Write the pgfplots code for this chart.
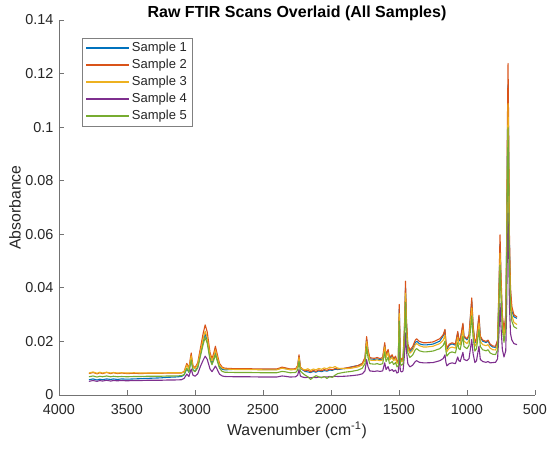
\documentclass[border=0pt]{standalone}
\usepackage{fontspec}
\setmainfont{Liberation Sans}
\usepackage{pgfplots}
\usepackage{pgfplotstable}
\pgfplotsset{compat=1.18}
\definecolor{c1}{rgb}{0,0.447,0.741}
\definecolor{c2}{rgb}{0.850,0.325,0.098}
\definecolor{c3}{rgb}{0.929,0.694,0.125}
\definecolor{c4}{rgb}{0.494,0.184,0.556}
\definecolor{c5}{rgb}{0.466,0.674,0.188}
\definecolor{axisgray}{rgb}{0.45,0.45,0.45}
\definecolor{labelgray}{rgb}{0.15,0.15,0.15}
\definecolor{legendgray}{rgb}{0.5,0.5,0.5}
\pgfplotstableread{
wn s1 s2 s3 s4 s5
3780 0.0057 0.0080 0.0082 0.0051 0.0068
3750 0.0060 0.0084 0.0086 0.0054 0.0071
3720 0.0056 0.0079 0.0081 0.0051 0.0067
3700 0.0059 0.0083 0.0085 0.0054 0.0070
3680 0.0057 0.0080 0.0082 0.0052 0.0068
3650 0.0060 0.0084 0.0085 0.0055 0.0071
3620 0.0058 0.0080 0.0082 0.0052 0.0068
3600 0.0060 0.0083 0.0084 0.0054 0.0070
3570 0.0058 0.0080 0.0082 0.0053 0.0068
3540 0.0060 0.0082 0.0083 0.0054 0.0069
3500 0.0059 0.0080 0.0082 0.0053 0.0068
3450 0.0060 0.0081 0.0083 0.0054 0.0069
3400 0.0061 0.0080 0.0082 0.0054 0.0069
3350 0.0062 0.0081 0.0082 0.0055 0.0070
3300 0.0063 0.0081 0.0082 0.0055 0.0070
3250 0.0064 0.0081 0.0082 0.0055 0.0070
3200 0.0066 0.0082 0.0083 0.0056 0.0071
3150 0.0067 0.0082 0.0083 0.0056 0.0071
3100 0.0069 0.0082 0.0083 0.0057 0.0072
3080 0.0075 0.0088 0.0086 0.0062 0.0076
3060 0.0098 0.0118 0.0112 0.0078 0.0100
3045 0.0085 0.0100 0.0097 0.0069 0.0085
3028 0.0135 0.0157 0.0146 0.0097 0.0131
3015 0.0094 0.0110 0.0105 0.0074 0.0093
3000 0.0088 0.0102 0.0098 0.0070 0.0087
2980 0.0104 0.0120 0.0114 0.0079 0.0101
2960 0.0152 0.0175 0.0162 0.0107 0.0145
2940 0.0200 0.0230 0.0210 0.0130 0.0189
2925 0.0228 0.0262 0.0238 0.0145 0.0215
2910 0.0205 0.0235 0.0214 0.0133 0.0193
2890 0.0140 0.0160 0.0149 0.0098 0.0133
2875 0.0119 0.0135 0.0127 0.0087 0.0113
2860 0.0140 0.0160 0.0149 0.0099 0.0133
2850 0.0160 0.0182 0.0168 0.0108 0.0151
2840 0.0140 0.0160 0.0149 0.0099 0.0133
2820 0.0105 0.0118 0.0112 0.0078 0.0100
2800 0.0096 0.0104 0.0100 0.0071 0.0088
2780 0.0094 0.0100 0.0097 0.0069 0.0085
2700 0.0096 0.0098 0.0095 0.0068 0.0084
2600 0.0096 0.0098 0.0095 0.0068 0.0084
2500 0.0095 0.0097 0.0094 0.0067 0.0083
2400 0.0095 0.0097 0.0094 0.0067 0.0083
2360 0.0101 0.0104 0.0100 0.0071 0.0088
2340 0.0099 0.0102 0.0098 0.0070 0.0087
2300 0.0095 0.0097 0.0094 0.0067 0.0083
2260 0.0096 0.0098 0.0095 0.0068 0.0084
2245 0.0107 0.0110 0.0105 0.0074 0.0093
2235 0.0145 0.0150 0.0140 0.0095 0.0125
2225 0.0103 0.0105 0.0101 0.0071 0.0089
2210 0.0094 0.0096 0.0097 0.0067 0.0082
2190 0.0088 0.0090 0.0094 0.0065 0.0074
2170 0.0086 0.0093 0.0098 0.0066 0.0068
2150 0.0084 0.0086 0.0092 0.0064 0.0058
2130 0.0088 0.0092 0.0097 0.0066 0.0066
2110 0.0085 0.0088 0.0094 0.0065 0.0072
2090 0.0090 0.0094 0.0099 0.0067 0.0068
2070 0.0087 0.0090 0.0096 0.0066 0.0064
2050 0.0091 0.0095 0.0101 0.0068 0.0069
2030 0.0089 0.0092 0.0098 0.0067 0.0062
2010 0.0093 0.0097 0.0104 0.0069 0.0068
1990 0.0092 0.0094 0.0102 0.0068 0.0066
1970 0.0096 0.0099 0.0106 0.0070 0.0074
1950 0.0095 0.0097 0.0100 0.0069 0.0080
1900 0.0099 0.0100 0.0098 0.0070 0.0085
1850 0.0105 0.0104 0.0100 0.0072 0.0088
1800 0.0110 0.0110 0.0105 0.0075 0.0093
1770 0.0117 0.0118 0.0112 0.0079 0.0100
1750 0.0135 0.0140 0.0131 0.0090 0.0117
1738 0.0208 0.0218 0.0199 0.0132 0.0180
1728 0.0163 0.0170 0.0158 0.0106 0.0141
1715 0.0135 0.0140 0.0131 0.0090 0.0117
1700 0.0134 0.0138 0.0129 0.0089 0.0116
1680 0.0133 0.0137 0.0129 0.0088 0.0115
1660 0.0135 0.0140 0.0131 0.0090 0.0117
1640 0.0132 0.0136 0.0128 0.0088 0.0114
1620 0.0135 0.0140 0.0131 0.0090 0.0117
1605 0.0187 0.0195 0.0179 0.0120 0.0161
1595 0.0145 0.0150 0.0140 0.0095 0.0125
1580 0.0163 0.0170 0.0158 0.0106 0.0141
1570 0.0135 0.0140 0.0131 0.0090 0.0117
1550 0.0145 0.0150 0.0140 0.0095 0.0125
1540 0.0132 0.0136 0.0128 0.0088 0.0114
1525 0.0140 0.0145 0.0136 0.0093 0.0121
1515 0.0121 0.0125 0.0118 0.0082 0.0105
1505 0.0126 0.0130 0.0123 0.0085 0.0109
1498 0.0320 0.0338 0.0304 0.0165 0.0276
1490 0.0135 0.0140 0.0131 0.0090 0.0117
1480 0.0128 0.0132 0.0124 0.0086 0.0111
1470 0.0135 0.0140 0.0131 0.0090 0.0117
1460 0.0238 0.0250 0.0227 0.0149 0.0206
1452 0.0401 0.0425 0.0380 0.0232 0.0346
1445 0.0266 0.0280 0.0253 0.0165 0.0230
1435 0.0182 0.0190 0.0175 0.0117 0.0157
1420 0.0162 0.0168 0.0156 0.0105 0.0140
1400 0.0173 0.0180 0.0166 0.0111 0.0149
1380 0.0196 0.0205 0.0188 0.0125 0.0169
1370 0.0201 0.0210 0.0192 0.0128 0.0173
1350 0.0191 0.0200 0.0184 0.0122 0.0165
1320 0.0187 0.0195 0.0179 0.0120 0.0161
1300 0.0187 0.0195 0.0179 0.0120 0.0161
1250 0.0190 0.0198 0.0182 0.0121 0.0164
1200 0.0201 0.0210 0.0192 0.0128 0.0173
1175 0.0221 0.0225 0.0205 0.0136 0.0185
1162 0.0241 0.0245 0.0223 0.0150 0.0201
1155 0.0196 0.0200 0.0184 0.0122 0.0165
1148 0.0171 0.0175 0.0162 0.0109 0.0145
1130 0.0186 0.0190 0.0175 0.0117 0.0157
1110 0.0191 0.0195 0.0179 0.0120 0.0161
1085 0.0186 0.0190 0.0175 0.0117 0.0157
1068 0.0233 0.0237 0.0216 0.0142 0.0195
1060 0.0206 0.0210 0.0192 0.0128 0.0173
1050 0.0201 0.0205 0.0188 0.0125 0.0169
1030 0.0263 0.0268 0.0243 0.0159 0.0220
1022 0.0216 0.0220 0.0201 0.0133 0.0181
1000 0.0206 0.0210 0.0192 0.0128 0.0173
985 0.0221 0.0225 0.0205 0.0136 0.0185
965 0.0352 0.0362 0.0325 0.0207 0.0295
955 0.0255 0.0260 0.0236 0.0154 0.0214
942 0.0194 0.0198 0.0182 0.0121 0.0164
930 0.0206 0.0210 0.0192 0.0128 0.0173
912 0.0292 0.0298 0.0269 0.0182 0.0244
902 0.0216 0.0220 0.0201 0.0133 0.0181
885 0.0201 0.0205 0.0188 0.0125 0.0169
860 0.0196 0.0200 0.0184 0.0122 0.0165
845 0.0201 0.0205 0.0188 0.0125 0.0169
830 0.0186 0.0190 0.0175 0.0120 0.0157
810 0.0179 0.0183 0.0169 0.0121 0.0152
790 0.0178 0.0182 0.0168 0.0122 0.0151
775 0.0201 0.0205 0.0188 0.0135 0.0169
765 0.0378 0.0400 0.0358 0.0229 0.0326
757 0.0562 0.0598 0.0530 0.0342 0.0485
750 0.0424 0.0450 0.0401 0.0256 0.0366
740 0.0285 0.0300 0.0271 0.0170 0.0246
728 0.0229 0.0240 0.0219 0.0142 0.0197
715 0.0285 0.0300 0.0271 0.0165 0.0246
708 0.0564 0.0600 0.0532 0.0337 0.0486
703 0.0937 0.1000 0.0881 0.0551 0.0807
698 0.1159 0.1238 0.1088 0.0679 0.0998
693 0.0890 0.0950 0.0837 0.0524 0.0767
688 0.0564 0.0600 0.0532 0.0337 0.0486
680 0.0378 0.0400 0.0358 0.0229 0.0326
670 0.0313 0.0330 0.0297 0.0205 0.0275
655 0.0292 0.0300 0.0271 0.0192 0.0255
632 0.0286 0.0291 0.0263 0.0188 0.0248
}\spectra
\begin{document}
\begin{tikzpicture}
\useasboundingbox (-59pt,-54pt) rectangle (491pt,395pt);
\begin{axis}[
  at={(0pt,0pt)}, anchor=south west,
  scale only axis, width=476pt, height=375pt,
  xmin=500, xmax=4000, ymin=0, ymax=0.14,
  x dir=reverse,
  xtick={500,1000,1500,2000,2500,3000,3500,4000},
  ytick={0,0.02,0.04,0.06,0.08,0.1,0.12,0.14},
  axis x line*=bottom, axis y line*=left,
  axis line style={-, draw=axisgray, line width=0.8pt},
  tick align=inside, major tick length=5pt,
  tick style={draw=axisgray, line width=0.8pt},
  scaled y ticks=false,
  ticklabel style={font=\fontsize{14.4}{17}\selectfont, text=labelgray},
  yticklabel style={/pgf/number format/fixed, /pgf/number format/precision=2, /pgf/number format/assume math mode=true, xshift=-2pt},
  xticklabel style={/pgf/number format/1000 sep={}, /pgf/number format/assume math mode=true, yshift=-6pt},
  every axis title shift=0pt,
  title={Raw FTIR Scans Overlaid (All Samples)},
  title style={font=\bfseries\fontsize{16}{19}\selectfont, at={(axis description cs:0.5,1)}, anchor=base, yshift=2pt},
  xlabel={Wavenumber (cm\textsuperscript{-1})},
  xlabel style={font=\fontsize{15.8}{19}\selectfont, text=labelgray, at={(axis description cs:0.5,-0.1067)}, anchor=base},
  ylabel={Absorbance},
  ylabel style={font=\fontsize{15.8}{19}\selectfont, text=labelgray, at={(axis description cs:-0.0924,0.5)}, anchor=center},
  legend style={at={(axis description cs:0.0483,0.952)}, anchor=north west,
    draw=legendgray, line width=0.6pt, font=\fontsize{13}{15.6}\selectfont, text=labelgray,
    row sep=1pt, nodes={inner sep=2pt, text height=9.5pt, text depth=2.5pt}},
  legend cell align=left,
  legend image code/.code={\draw[#1, line width=1.7pt] (0pt,0pt) -- (43pt,0pt);},
]
\addplot[draw=c1, line width=1.1pt, mark=none, line join=round] table[x=wn, y=s1] {\spectra};
\addlegendentry{Sample 1}
\addplot[draw=c2, line width=1.1pt, mark=none, line join=round] table[x=wn, y=s2] {\spectra};
\addlegendentry{Sample 2}
\addplot[draw=c3, line width=1.1pt, mark=none, line join=round] table[x=wn, y=s3] {\spectra};
\addlegendentry{Sample 3}
\addplot[draw=c4, line width=1.1pt, mark=none, line join=round] table[x=wn, y=s4] {\spectra};
\addlegendentry{Sample 4}
\addplot[draw=c5, line width=1.1pt, mark=none, line join=round] table[x=wn, y=s5] {\spectra};
\addlegendentry{Sample 5}
\end{axis}
\end{tikzpicture}
\end{document}
